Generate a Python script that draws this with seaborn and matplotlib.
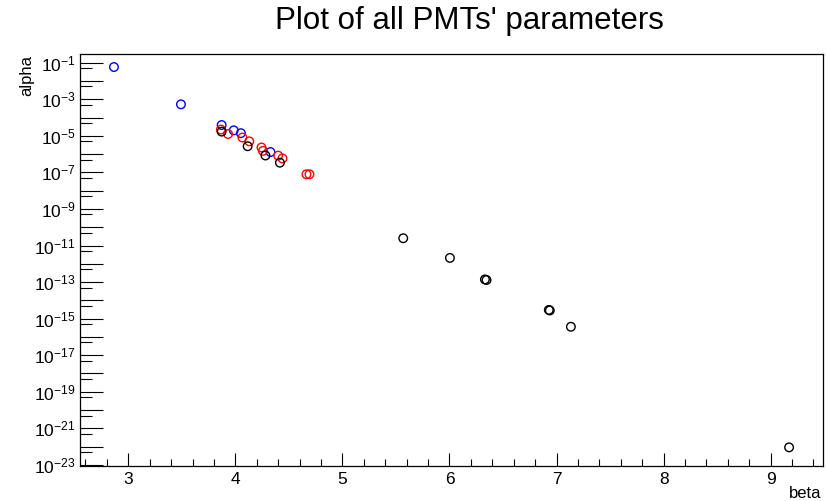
import numpy as np
import pandas as pd
import matplotlib
matplotlib.use("Agg")
import matplotlib.pyplot as plt
from matplotlib.ticker import FixedLocator, FuncFormatter, MultipleLocator
import seaborn as sns

# PMT fit parameters, one group per colour
beta_blue = [2.866, 3.492, 3.872, 3.985, 4.052, 4.328]
alpha_blue = [5.8e-2, 5.3e-4, 3.9e-5, 2.0e-5, 1.4e-5, 1.3e-6]

beta_red = [3.865, 3.932, 4.066, 4.130, 4.244, 4.258, 4.400, 4.440, 4.664, 4.692]
alpha_red = [2.2e-5, 1.26e-5, 8.1e-6, 5.0e-6, 2.3e-6, 1.5e-6, 8.3e-7, 5.8e-7, 7.9e-8, 7.9e-8]

beta_black = [3.872, 4.115, 4.281, 4.416, 5.568, 6.004, 6.331, 6.346, 6.928, 6.937, 7.134, 9.172]
alpha_black = [1.7e-5, 2.7e-6, 8.4e-7, 3.4e-7, 2.5e-11, 2.1e-12, 1.4e-13, 1.3e-13,
               3.0e-15, 2.8e-15, 3.6e-16, 9.1e-23]

x_ticks = [3, 4, 5, 6, 7, 8, 9]
y_exponents = list(range(-23, 0))

sns.set_style("white")
plt.rcParams["font.family"] = ["Liberation Sans", "DejaVu Sans"]
plt.rcParams["mathtext.default"] = "regular"
plt.rcParams["mathtext.fontset"] = "custom"
plt.rcParams["mathtext.rm"] = "Liberation Sans"
plt.rcParams["mathtext.it"] = "Liberation Sans:italic"
plt.rcParams["text.color"] = "black"
plt.rcParams["xtick.color"] = "black"
plt.rcParams["ytick.color"] = "black"

fig = plt.figure(figsize=(8.26, 5.01), dpi=100)
ax = fig.add_axes([80 / 826, 1 - 466 / 501, (822.7 - 80) / 826, (466 - 54.3) / 501])

groups = [
    (beta_blue, alpha_blue, "#0000ff"),
    (beta_red, alpha_red, "#ff0000"),
    (beta_black, alpha_black, "#000000"),
]
for bx, ay, col in groups:
    df = pd.DataFrame({"beta": bx, "alpha": ay})
    sns.scatterplot(data=df, x="beta", y="alpha", ax=ax, marker="o", s=38,
                    color=col, facecolor="none", edgecolor=col, linewidth=1.0,
                    legend=False, zorder=3)

ax.set_yscale("log")
ax.set_xlim(2.549, 9.486)
ax.set_ylim(10 ** -23.06, 10 ** -0.54)

# x axis: majors every unit, minors every 0.2
ax.xaxis.set_major_locator(FixedLocator(x_ticks))
ax.xaxis.set_minor_locator(MultipleLocator(0.2))
ax.xaxis.set_major_formatter(FuncFormatter(lambda v, p: f"{v:g}"))

# y axis: a tick at every decade, labels on odd exponents, short ticks at 5x10^n
ax.yaxis.set_major_locator(FixedLocator([10.0 ** e for e in y_exponents]))
ax.yaxis.set_minor_locator(FixedLocator([5 * 10.0 ** e for e in range(-24, 0)]))


def ylab(v, pos):
    e = int(round(np.log10(v)))
    if e % 2 == 0:
        return ""
    return r"$10^{%d}$" % e


ax.yaxis.set_major_formatter(FuncFormatter(ylab))
ax.yaxis.set_minor_formatter(FuncFormatter(lambda v, p: ""))

ax.tick_params(axis="x", which="major", direction="in", length=9.5, width=0.8,
               labelsize=12.5, pad=4, bottom=True, top=False, color="black")
ax.tick_params(axis="x", which="minor", direction="in", length=5, width=0.8,
               bottom=True, top=False, color="black")
ax.tick_params(axis="y", which="major", direction="in", length=16.5, width=0.8,
               labelsize=12.5, pad=3, left=True, right=False, color="black")
ax.tick_params(axis="y", which="minor", direction="in", length=8.5, width=0.8,
               left=True, right=False, color="black")

for sp in ax.spines.values():
    sp.set_visible(True)
    sp.set_color("black")
    sp.set_linewidth(0.9)

ax.set_xlabel("")
ax.set_ylabel("")
fig.text(821 / 826, 1 - 493 / 501, "beta", ha="right", va="center", fontsize=12)
fig.text(27 / 826, 1 - 54.5 / 501, "alpha", ha="center", va="top", rotation=90, fontsize=12)
fig.text(469 / 826, 1 - 21 / 501, "Plot of all PMTs' parameters", ha="center",
         va="center", fontsize=22.5)

fig.savefig("out.png", dpi=100)
